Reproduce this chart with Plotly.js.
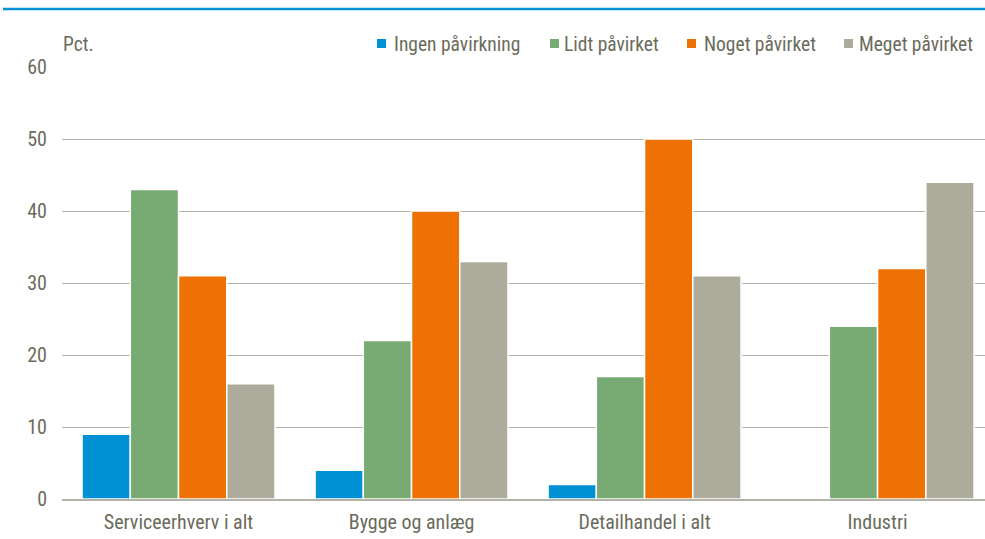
<!DOCTYPE html>
<html><head><meta charset="utf-8">
<script src="https://cdn.plot.ly/plotly-3.0.1.min.js"></script>
<style>body{margin:0;padding:0;background:#fff}#c{width:985px;height:539px}</style>
</head><body><div id="c"></div>
<script>
var categories = ["Serviceerhverv i alt", "Bygge og anlæg", "Detailhandel i alt", "Industri"];
var seriesNames = ["Ingen påvirkning", "Lidt påvirket", "Noget påvirket", "Meget påvirket"];
var ingen = [9, 4, 2, 0];
var lidt = [43, 22, 17, 24];
var noget = [31, 40, 50, 32];
var meget = [16, 33, 31, 44];
var yTicks = [0, 10, 20, 30, 40, 50, 60];

var colors = ["#0090d4", "#77ab73", "#ee7203", "#adab9c"];
var vals = [ingen, lidt, noget, meget];
var fontFam = "'Liberation Sans Narrow', 'Arial Narrow', 'Roboto Condensed', 'Liberation Sans', Arial, sans-serif";
var txtCol = "#6b6b5c";
var W = 985, H = 539, mL = 62, mR = 0, mT = 67, mB = 40;
var pw = W - mL - mR, ph = H - mT - mB;
function px(x){ return (x - mL) / pw; }
function py(y){ return (H - mB - y) / ph; }

var data = vals.map(function(v, i){
  return {type:"bar", name: seriesNames[i], x: categories, y: v,
    marker:{color: colors[i], line:{color:"#ffffff", width:1.5}}, hoverinfo:"y"};
});

// custom legend positions (pixels)
var legTextX = [393, 563, 703, 858];
var legSqX = [377, 550, 687, 844];
var shapes = [{type:"line", xref:"paper", yref:"paper", x0:px(3), x1:1, y0:py(9), y1:py(9), line:{color:"#0090d4", width:2.5}}];
var annotations = [{text:"Pct.", xref:"paper", yref:"paper", x:px(61), y:py(44), xanchor:"left", yanchor:"middle", showarrow:false, font:{size:19.5, color:txtCol}}];
seriesNames.forEach(function(n, i){
  shapes.push({type:"rect", xref:"paper", yref:"paper", x0:px(legSqX[i]), x1:px(legSqX[i]+9), y0:py(48), y1:py(39), line:{width:0}, fillcolor:colors[i]});
  annotations.push({text:n, xref:"paper", yref:"paper", x:px(legTextX[i]-1), y:py(44), xanchor:"left", yanchor:"middle", showarrow:false, font:{size:19.5, color:txtCol}});
});

var layout = {
  width:W, height:H,
  margin:{l:mL, r:mR, t:mT, b:mB},
  barmode:"group", bargap:0.172, bargroupgap:0,
  paper_bgcolor:"#fff", plot_bgcolor:"#fff",
  font:{family:fontFam, size:20, color:txtCol},
  xaxis:{range:[-0.5, 3.461], showgrid:false, showline:true, linecolor:"#b3b3a8", linewidth:1.5, ticks:"", ticklabelstandoff:4, tickfont:{size:20, color:txtCol}, fixedrange:true},
  yaxis:{range:[0,60], tickvals:yTicks, showgrid:true, gridcolor:"#b3b3a8", gridwidth:1, zeroline:false, showline:false, ticks:"", ticklabelstandoff:14, tickfont:{size:20, color:txtCol}, fixedrange:true},
  showlegend:false,
  shapes:shapes,
  annotations:annotations
};
Plotly.newPlot("c", data, layout, {displayModeBar:false, staticPlot:true});
</script></body></html>
